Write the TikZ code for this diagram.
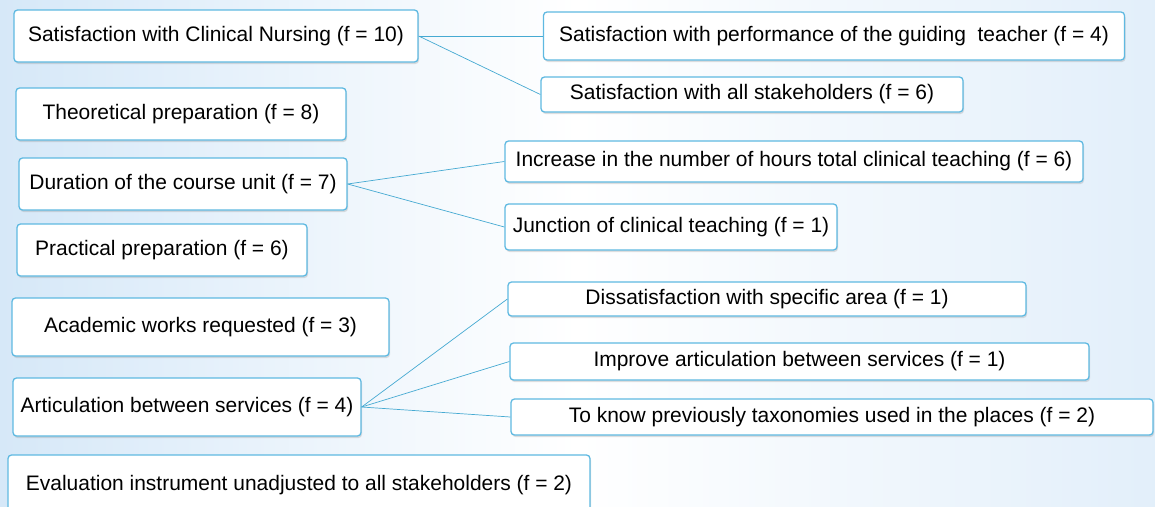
\documentclass[tikz,border=0pt]{standalone}
\usepackage{fontspec}
\setmainfont{Liberation Sans}
\usepackage{tikz}
\usetikzlibrary{positioning, shadows}
\definecolor{nurseblue}{RGB}{95,185,225}
\definecolor{nurseline}{RGB}{70,170,210}
\definecolor{nursebg}{RGB}{214,232,248}

\begin{document}
\begin{tikzpicture}[font=\fontsize{17.9}{20}\selectfont,
  box/.style={draw=nurseblue, line width=1.1pt, fill=white, rounded corners=3pt, inner sep=0pt,
    drop shadow={opacity=0.25, shadow xshift=0.03cm, shadow yshift=-0.06cm}},
  link/.style={draw=nurseline, line width=0.6pt}]

% Background
\useasboundingbox (0,0) rectangle (34.65,-15.18);
\shade[left color=nursebg, right color=nursebg!70, middle color=white] (0,0) rectangle (34.65,-15.18);

% Left column
\node[box, minimum width=12.12cm, minimum height=1.56cm] (clin) at (6.48,-1.08) {Satisfaction with Clinical Nursing (f = 10)};
\node[box, minimum width=9.9cm, minimum height=1.56cm] (theo) at (5.43,-3.42) {Theoretical preparation (f = 8)};
\node[box, minimum width=9.84cm, minimum height=1.56cm] (dur) at (5.49,-5.52) {Duration of the course unit (f = 7)};
\node[box, minimum width=8.7cm, minimum height=1.56cm] (prac) at (4.86,-7.5) {Practical preparation (f = 6)};
\node[box, minimum width=11.31cm, minimum height=1.74cm] (acad) at (6.015,-9.81) {Academic works requested (f = 3)};
\node[box, minimum width=10.44cm, minimum height=1.74cm] (artic) at (5.61,-12.21) {Articulation between services (f = 4)};
\node[box, minimum width=17.46cm, minimum height=1.8cm] (eval) at (8.97,-14.55) {Evaluation instrument unadjusted to all stakeholders (f = 2)};

% Right column
\node[box, minimum width=17.43cm, minimum height=1.44cm] (teach) at (25.02,-1.08) {Satisfaction with performance of the guiding~ teacher (f = 4)};
\node[box, minimum width=12.66cm, minimum height=1.05cm] (stake) at (22.56,-2.835) {Satisfaction with all stakeholders (f = 6)};
\node[box, minimum width=17.34cm, minimum height=1.23cm] (hours) at (23.82,-4.845) {Increase in the number of hours total clinical teaching (f = 6)};
\node[box, minimum width=9.96cm, minimum height=1.38cm] (junc) at (20.13,-6.81) {Junction of clinical teaching (f = 1)};
\node[box, minimum width=15.54cm, minimum height=1.02cm] (dissat) at (23.01,-8.97) {Dissatisfaction with specific area (f = 1)};
\node[box, minimum width=17.37cm, minimum height=1.11cm] (improve) at (23.985,-10.845) {Improve articulation between services (f = 1)};
\node[box, minimum width=19.26cm, minimum height=1.08cm] (taxo) at (24.96,-12.51) {To know previously taxonomies used in the places (f = 2)};

% Connectors
\foreach \t in {teach,stake}
  \draw[link] (clin.east) -- (\t.west);
\foreach \t in {hours,junc}
  \draw[link] (dur.east) -- (\t.west);
\foreach \t in {dissat,improve,taxo}
  \draw[link] (artic.east) -- (\t.west);

\end{tikzpicture}
\end{document}
